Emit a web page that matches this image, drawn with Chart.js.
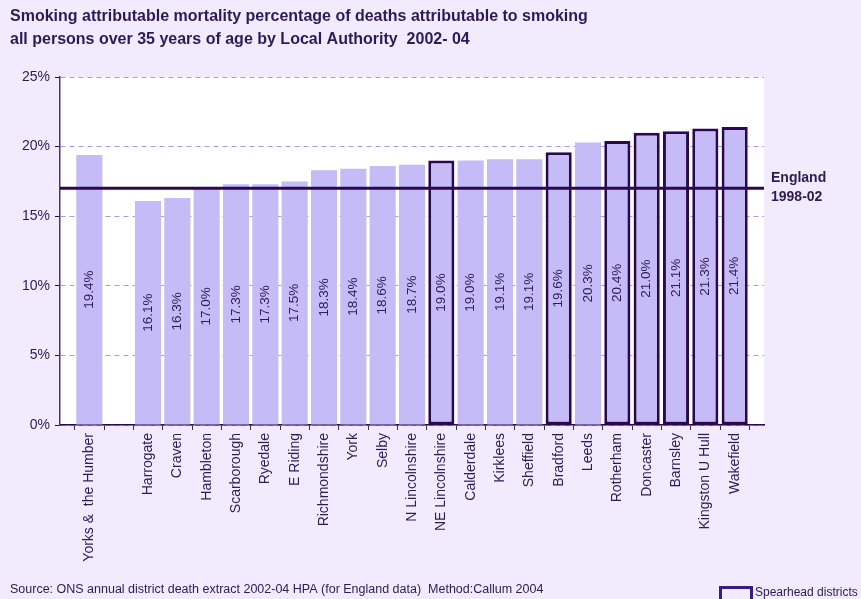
<!DOCTYPE html>
<html>
<head>
<meta charset="utf-8">
<script src="https://cdn.jsdelivr.net/npm/chart.js@4/dist/chart.umd.min.js"></script>
<style>
  html, body { margin: 0; padding: 0; background: #F1EBFD; }
  #wrap { width: 861px; height: 599px; position: relative; }
</style>
</head>
<body>
<div id="wrap"><canvas id="smokingChart"></canvas></div>
<script>
// region average shown first, then districts sorted by value
var regionName = 'Yorks &  the Humber';
var regionValue = 19.4;
var districts = ['Harrogate', 'Craven', 'Hambleton', 'Scarborough', 'Ryedale', 'E Riding',
  'Richmondshire', 'York', 'Selby', 'N Lincolnshire', 'NE Lincolnshire', 'Calderdale',
  'Kirklees', 'Sheffield', 'Bradford', 'Leeds', 'Rotherham', 'Doncaster', 'Barnsley',
  'Kingston U Hull', 'Wakefield'];
var districtValues = [16.1, 16.3, 17.0, 17.3, 17.3, 17.5, 18.3, 18.4, 18.6, 18.7, 19.0, 19.0,
  19.1, 19.1, 19.6, 20.3, 20.4, 21.0, 21.1, 21.3, 21.4];
var spearhead = ['NE Lincolnshire', 'Bradford', 'Rotherham', 'Doncaster', 'Barnsley',
  'Kingston U Hull', 'Wakefield'];
var englandValue = 17.0;
var englandLabel = ['England', '1998-02'];
var yTicks = [0, 5, 10, 15, 20, 25];
var titleLines = ['Smoking attributable mortality percentage of deaths attributable to smoking',
  'all persons over 35 years of age by Local Authority  2002- 04'];
var sourceText = 'Source: ONS annual district death extract 2002-04 HPA (for England data)  Method:Callum 2004';
var legendText = 'Spearhead districts';

var TEXT = '#2E1A55';
var DARK = '#2A0850';
var BAR = '#C5BBF6';
var FONT = '"Liberation Sans", Arial, sans-serif';

// blank slots: one before the region bar, one between region and districts, one at the end
var labels = [''].concat([regionName, '']).concat(districts).concat(['']);
var values = [null, regionValue, null].concat(districtValues).concat([null]);
var borderColors = labels.map(function(l){ return spearhead.indexOf(l) >= 0 ? DARK : BAR; });
var borderWidths = labels.map(function(l){ return spearhead.indexOf(l) >= 0 ? 3 : 0; });

var decorPlugin = {
  id: 'decor',
  beforeDraw: function(chart) {
    var ctx = chart.ctx, a = chart.chartArea;
    ctx.save();
    ctx.fillStyle = '#F1EBFD';
    ctx.fillRect(0, 0, chart.width, chart.height);
    ctx.fillStyle = '#FFFFFF';
    ctx.fillRect(a.left, a.top, a.right - a.left, a.bottom - a.top);
    ctx.restore();
  },
  afterDatasetsDraw: function(chart) {
    var ctx = chart.ctx, a = chart.chartArea;
    var meta = chart.getDatasetMeta(0);
    ctx.save();
    // value labels inside bars
    ctx.fillStyle = TEXT;
    ctx.font = '13.5px ' + FONT;
    ctx.textAlign = 'center';
    ctx.textBaseline = 'middle';
    meta.data.forEach(function(bar, i) {
      if (values[i] === null) return;
      ctx.save();
      ctx.translate(bar.x, (bar.y + bar.base) / 2);
      ctx.rotate(-Math.PI / 2);
      ctx.fillText(values[i].toFixed(1) + '%', 0, 0);
      ctx.restore();
    });
    // England reference line
    var ey = chart.scales.y.getPixelForValue(englandValue);
    ctx.strokeStyle = DARK;
    ctx.lineWidth = 3;
    ctx.beginPath();
    ctx.moveTo(a.left, ey);
    ctx.lineTo(a.right, ey);
    ctx.stroke();
    ctx.fillStyle = TEXT;
    ctx.font = 'bold 14px ' + FONT;
    ctx.textAlign = 'left';
    ctx.fillText(englandLabel[0], a.right + 7, ey - 10);
    ctx.fillText(englandLabel[1], a.right + 7, ey + 9);
    // title
    ctx.font = 'bold 16px ' + FONT;
    ctx.fillText(titleLines[0], 10, 17);
    ctx.fillText(titleLines[1], 10, 40);
    // source
    ctx.font = '12.5px ' + FONT;
    ctx.fillText(sourceText, 10, 590);
    // legend
    ctx.strokeStyle = '#3A1A85';
    ctx.lineWidth = 3;
    ctx.strokeRect(720.5, 587.5, 31, 16);
    ctx.font = '12px ' + FONT;
    ctx.fillText(legendText, 755, 593);
    ctx.restore();
  }
};

new Chart(document.getElementById('smokingChart'), {
  type: 'bar',
  data: {
    labels: labels,
    datasets: [{
      data: values,
      backgroundColor: BAR,
      borderColor: borderColors,
      borderWidth: borderWidths,
      borderSkipped: false,
      categoryPercentage: 1,
      barPercentage: 0.89
    }]
  },
  options: {
    responsive: true,
    maintainAspectRatio: false,
    animation: false,
    layout: { padding: { top: 77, right: 97, bottom: 0, left: 0 } },
    plugins: { legend: { display: false }, tooltip: { enabled: false } },
    scales: {
      x: {
        offset: false,
        grid: { drawOnChartArea: false, drawTicks: true, tickLength: 5, color: '#333333' },
        border: { color: DARK, width: 1.5 },
        ticks: {
          autoSkip: false, minRotation: 90, maxRotation: 90, padding: 3,
          color: TEXT, font: { family: FONT, size: 14 }
        },
        afterFit: function(s) { s.height = 174; }
      },
      y: {
        min: 0, max: 25,
        afterBuildTicks: function(s) { s.ticks = yTicks.map(function(v){ return { value: v }; }); },
        grid: { color: '#A79CF3', tickColor: DARK, tickLength: 5, tickBorderDash: [] },
        border: { color: '#4A2E7A', width: 1.5, dash: [5, 4] },
        ticks: {
          padding: 5, color: TEXT, font: { family: FONT, size: 14 },
          callback: function(v) { return v + '%'; }
        },
        afterFit: function(s) { s.width = 60; }
      }
    }
  },
  plugins: [decorPlugin]
});
</script>
</body>
</html>
